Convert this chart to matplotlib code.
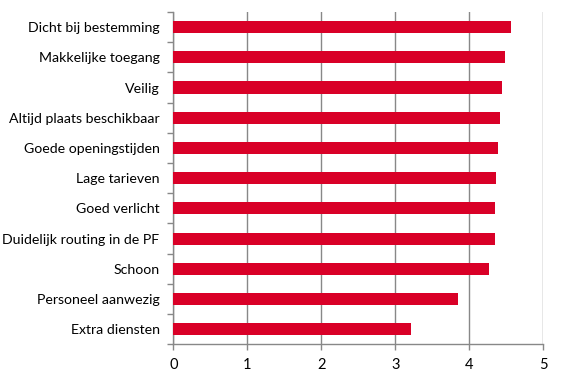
import matplotlib.pyplot as plt
import numpy as np

# data
labels = [
    "Dicht bij bestemming",
    "Makkelijke toegang",
    "Veilig",
    "Altijd plaats beschikbaar",
    "Goede openingstijden",
    "Lage tarieven",
    "Goed verlicht",
    "Duidelijk routing in de PF",
    "Schoon",
    "Personeel aanwezig",
    "Extra diensten",
]
scores = [4.56, 4.48, 4.44, 4.41, 4.39, 4.36, 4.35, 4.35, 4.27, 3.85, 3.21]
x_ticks = [0, 1, 2, 3, 4, 5]

plt.rcParams['font.family'] = ['Lato', 'DejaVu Sans']

fig = plt.figure(figsize=(5.64, 3.81), dpi=100)
ax = fig.add_axes([0.3076, 0.0963, 0.6557, 0.8722])

y = np.arange(len(labels))
ax.barh(y, scores, height=0.4, color="#D90027", zorder=3)

ax.set_xlim(0, 5)
ax.set_ylim(len(labels) - 0.5, -0.5)
ax.set_xticks(x_ticks)
ax.set_yticks(y)
ax.set_yticklabels(labels)
ax.set_yticks(np.arange(-0.5, len(labels), 1.0), minor=True)

ax.grid(axis="x", color="#888888", linewidth=1, zorder=0)
for s in ["top", "right"]:
    ax.spines[s].set_visible(False)
for s in ["left", "bottom"]:
    ax.spines[s].set_color("#888888")
    ax.spines[s].set_linewidth(1)

ax.tick_params(axis="y", which="major", length=0, pad=10, labelsize=10.2)
ax.tick_params(axis="y", which="minor", length=4, color="#888888", width=1)
ax.tick_params(axis="x", length=4, color="#888888", width=1, labelsize=10.5, pad=6)

fig.savefig("out.png", dpi=100)
